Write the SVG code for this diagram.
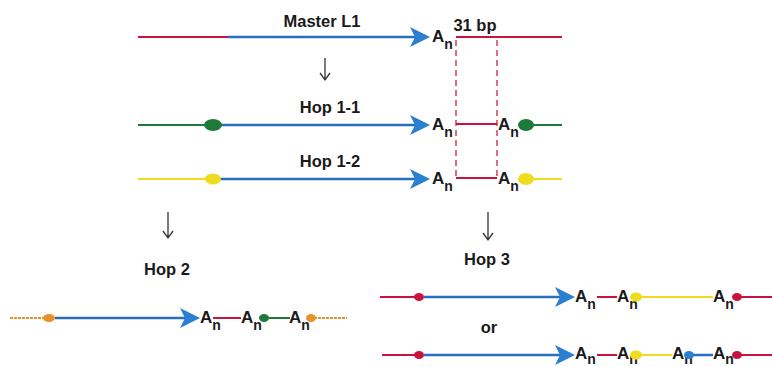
<svg xmlns="http://www.w3.org/2000/svg" width="772" height="367" viewBox="0 0 772 367">
<defs>
<style>
.lbl{font-family:"Liberation Sans",Arial,sans-serif;font-weight:bold;font-size:16.5px;fill:#1a1a1a}
.a{font-family:"Liberation Sans",Arial,sans-serif;font-weight:bold;font-size:17px;fill:#1a1a1a}
.n{font-size:14px}
.red{stroke:#c8143c;stroke-width:2;fill:none}
.blue{stroke:#2a6fbf;stroke-width:2.5;fill:none}
.green{stroke:#1d7a3a;stroke-width:2;fill:none}
.yellow{stroke:#f0dc1e;stroke-width:2;fill:none}
.orange{stroke:#e8902a;stroke-width:2;fill:none;stroke-dasharray:3,1}
.dash{stroke:#d0203c;stroke-width:1.3;fill:none;stroke-dasharray:6,4}
.darr{stroke:#333;stroke-width:1.3;fill:none}
</style>
<path id="head" d="M-20,-10 L0,0 L-20,10 L-15,0 Z" fill="#2a7fd0"/>
</defs>

<g id="connectors">
<line class="dash" x1="456" y1="40" x2="456" y2="178"/>
<line class="dash" x1="497" y1="40" x2="497" y2="178"/>
<path class="darr" d="M325,58 V80 M320,73 L325,80 L330,73"/>
<path class="darr" d="M168,212 V238 M163,231 L168,238 L173,231"/>
<path class="darr" d="M488,212 V240 M483,233 L488,240 L493,233"/>
</g>

<g id="master">
<text class="lbl" x="322" y="27" text-anchor="middle">Master L1</text>
<line class="red" x1="138" y1="37" x2="228" y2="37"/>
<line class="blue" x1="228" y1="37" x2="420" y2="37"/>
<use href="#head" x="430" y="37"/>
<text class="a" x="432" y="42">A<tspan class="n" dy="7">n</tspan></text>
<text class="lbl" x="475" y="31" text-anchor="middle">31 bp</text>
<line class="red" x1="456" y1="37" x2="562" y2="37"/>
</g>

<g id="hop1-1">
<text class="lbl" x="330" y="113" text-anchor="middle">Hop 1-1</text>
<line class="green" x1="138" y1="125" x2="208" y2="125"/>
<line class="blue" x1="220" y1="125" x2="420" y2="125"/>
<use href="#head" x="430" y="125"/>
<ellipse cx="213" cy="125" rx="9" ry="6" fill="#1d7a3a"/>
<text class="a" x="432" y="130">A<tspan class="n" dy="7">n</tspan></text>
<line class="red" x1="456" y1="124" x2="497" y2="124"/>
<text class="a" x="498" y="130">A<tspan class="n" dy="7">n</tspan></text>
<line class="green" x1="530" y1="125" x2="562" y2="125"/>
<ellipse cx="526" cy="125" rx="8" ry="6" fill="#1d7a3a"/>
</g>

<g id="hop1-2">
<text class="lbl" x="330" y="167" text-anchor="middle">Hop 1-2</text>
<line class="yellow" x1="138" y1="179" x2="208" y2="179"/>
<line class="blue" x1="220" y1="179" x2="420" y2="179"/>
<use href="#head" x="430" y="179"/>
<ellipse cx="213" cy="179" rx="8" ry="5.5" fill="#f0dc1e"/>
<text class="a" x="432" y="184">A<tspan class="n" dy="7">n</tspan></text>
<line class="red" x1="456" y1="178" x2="497" y2="178"/>
<text class="a" x="498" y="184">A<tspan class="n" dy="7">n</tspan></text>
<line class="yellow" x1="530" y1="179" x2="562" y2="179"/>
<ellipse cx="526" cy="179" rx="8" ry="6" fill="#f0dc1e"/>
</g>

<g id="hop2">
<text class="lbl" x="167" y="275" text-anchor="middle">Hop 2</text>
<line class="orange" x1="10" y1="318" x2="45" y2="318"/>
<ellipse cx="49" cy="318" rx="6" ry="4" fill="#e8902a"/>
<line class="blue" x1="55" y1="318" x2="192" y2="318"/>
<use href="#head" x="200" y="318"/>
<text class="a" x="200" y="323">A<tspan class="n" dy="7">n</tspan></text>
<line class="red" x1="213" y1="318" x2="241" y2="318"/>
<text class="a" x="241" y="323">A<tspan class="n" dy="7">n</tspan></text>
<line class="green" x1="266" y1="318" x2="290" y2="318"/>
<ellipse cx="264" cy="318" rx="5" ry="4" fill="#1d7a3a"/>
<text class="a" x="289" y="323">A<tspan class="n" dy="7">n</tspan></text>
<line class="orange" x1="314" y1="318" x2="347" y2="318"/>
<ellipse cx="311" cy="318" rx="5" ry="4" fill="#e8902a"/>
</g>

<g id="hop3">
<text class="lbl" x="487" y="265" text-anchor="middle">Hop 3</text>
<line class="red" x1="380" y1="297" x2="418" y2="297"/>
<ellipse cx="419" cy="297" rx="5" ry="4" fill="#c8143c"/>
<line class="blue" x1="424" y1="297" x2="565" y2="297"/>
<use href="#head" x="575" y="297"/>
<text class="a" x="575" y="302">A<tspan class="n" dy="7">n</tspan></text>
<line class="red" x1="597" y1="297" x2="617" y2="297"/>
<text class="a" x="617" y="302">A<tspan class="n" dy="7">n</tspan></text>
<line class="yellow" x1="636" y1="297" x2="713" y2="297"/>
<ellipse cx="636" cy="297" rx="6" ry="4.5" fill="#f0dc1e"/>
<text class="a" x="713" y="302">A<tspan class="n" dy="7">n</tspan></text>
<line class="red" x1="737" y1="297" x2="772" y2="297"/>
<ellipse cx="737" cy="297" rx="5" ry="4" fill="#c8143c"/>

<text class="lbl" x="489" y="333" text-anchor="middle">or</text>

<line class="red" x1="382" y1="355" x2="418" y2="355"/>
<ellipse cx="419" cy="355" rx="5" ry="4" fill="#c8143c"/>
<line class="blue" x1="424" y1="355" x2="565" y2="355"/>
<use href="#head" x="575" y="355"/>
<text class="a" x="575" y="359">A<tspan class="n" dy="5">n</tspan></text>
<line class="red" x1="597" y1="355" x2="617" y2="355"/>
<text class="a" x="617" y="359">A<tspan class="n" dy="5">n</tspan></text>
<line class="yellow" x1="636" y1="355" x2="672" y2="355"/>
<ellipse cx="636" cy="355" rx="6" ry="4.5" fill="#f0dc1e"/>
<text class="a" x="672" y="359">A<tspan class="n" dy="5">n</tspan></text>
<line class="blue" x1="690" y1="355" x2="713" y2="355"/>
<ellipse cx="689" cy="355" rx="5" ry="4" fill="#2a7fd0"/>
<text class="a" x="713" y="359">A<tspan class="n" dy="5">n</tspan></text>
<line class="red" x1="737" y1="355" x2="772" y2="355"/>
<ellipse cx="737" cy="355" rx="5" ry="4" fill="#c8143c"/>
</g>
</svg>
